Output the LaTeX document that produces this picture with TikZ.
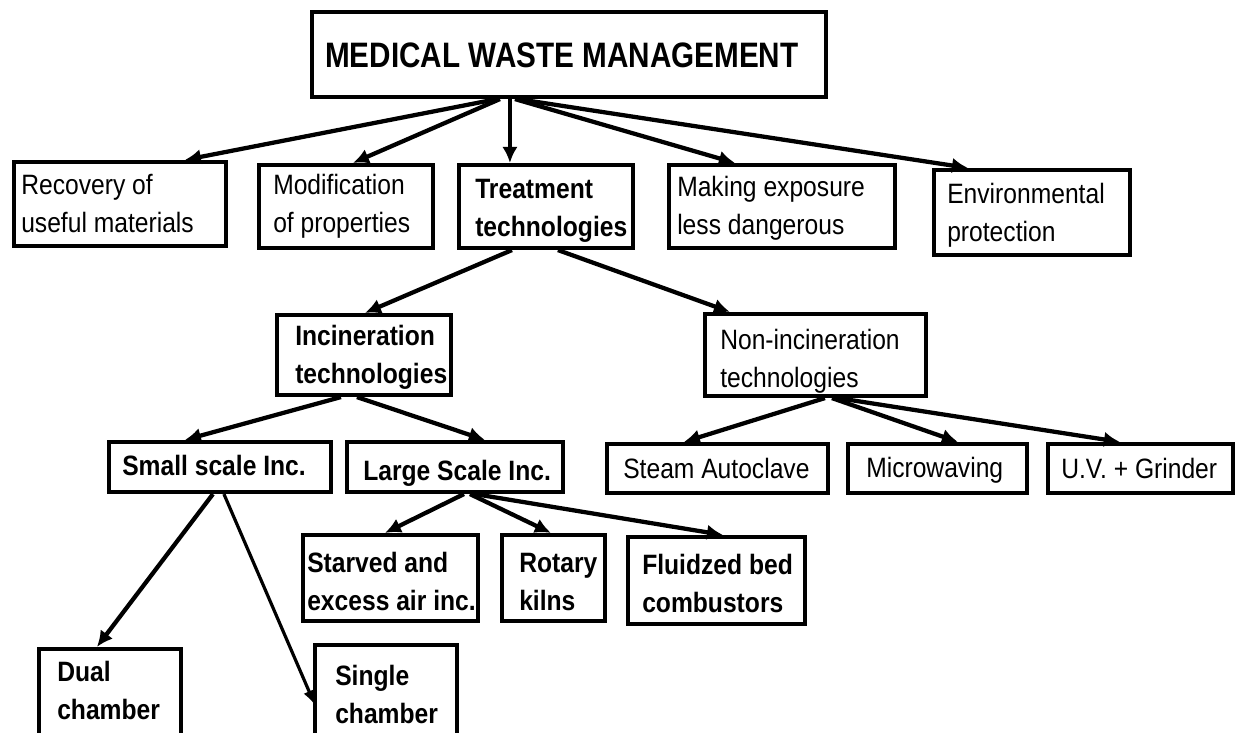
\documentclass[tikz,border=0pt]{standalone}
\usepackage{fontspec}
\setmainfont{Liberation Sans}[FakeStretch=0.88]
\newfontfamily\titlefont{Liberation Sans}[FakeStretch=0.84]
\usetikzlibrary{arrows.meta,calc}
\newcommand\mkbox[5]{\node[box, minimum width={(#4-#2-4)*0.75pt}, minimum height={(#5-#3-4)*0.75pt}] (#1) at ({(#2+#4)/2},{(#3+#5)/2}) {};}
\newcommand\mktext[5]{\node[#2, anchor=base west] (#1) at (#3,#4) {#5};}
\begin{document}
\begin{tikzpicture}[x=0.75pt,y=-0.75pt,
  box/.style={draw, line width=3.1pt, rectangle, inner sep=0pt},
  txt/.style={inner sep=0pt, align=left, font=\fontsize{21}{28.5}\selectfont},
  btxt/.style={inner sep=0pt, align=left, font=\bfseries\fontsize{21}{28.5}\selectfont},
  ttxt/.style={inner sep=0pt, font=\titlefont\bfseries\fontsize{26.5}{30}\selectfont},
  arr/.style={line width=3.2pt, -{Latex[length=12pt,width=11.5pt]}},
  tarr/.style={line width=2.4pt, -{Latex[length=11pt,width=9pt]}}]
\clip (0,0) rectangle (1246,732);
\fill[white] (0,0) rectangle (1246,732);
% boxes
\mkbox{mwm}{310}{10}{828}{99}
\mkbox{rec}{12}{160}{228}{248}
\mkbox{mod}{257}{163}{435}{250}
\mkbox{trt}{457}{163}{635}{250}
\mkbox{mak}{667}{163}{897}{250}
\mkbox{env}{932}{168}{1132}{257}
\mkbox{inc}{275}{313}{453}{397}
\mkbox{non}{703}{312}{928}{398}
\mkbox{sml}{107}{440}{333}{494}
\mkbox{lrg}{345}{440}{565}{494}
\mkbox{stm}{605}{442}{830}{495}
\mkbox{mic}{846}{442}{1029}{495}
\mkbox{uv}{1046}{442}{1235}{495}
\mkbox{stv}{301}{533}{480}{623}
\mkbox{rot}{500}{533}{607}{623}
\mkbox{flu}{626}{535}{807}{626}
\mkbox{dua}{37}{647}{183}{760}
\mkbox{sgl}{313}{643}{459}{760}
% texts (y = baseline of the last line)
\mktext{mwmT}{ttxt}{325}{67}{MEDICAL WASTE MANAGEMENT}
\mktext{recT}{txt}{21}{232}{Recovery of\\useful materials}
\mktext{modT}{txt}{273}{232}{Modification\\of properties}
\mktext{trtT}{btxt}{475}{236}{Treatment\\technologies}
\mktext{makT}{txt}{677}{234}{Making exposure\\less dangerous}
\mktext{envT}{txt}{947}{241}{Environmental\\protection}
\mktext{incT}{btxt}{295}{383}{Incineration\\technologies}
\mktext{nonT}{txt}{720}{387}{Non-incineration\\technologies}
\mktext{smlT}{btxt}{122}{475}{Small scale Inc.}
\mktext{lrgT}{btxt}{363}{480}{Large Scale Inc.}
\mktext{stmT}{txt}{623}{478}{Steam Autoclave}
\mktext{micT}{txt}{866}{477}{Microwaving}
\mktext{uvT}{txt}{1061}{478}{U.V. + Grinder}
\mktext{stvT}{btxt}{307}{610}{Starved and\\excess air inc.}
\mktext{rotT}{btxt}{519}{610}{Rotary\\kilns}
\mktext{fluT}{btxt}{642}{612}{Fluidzed bed\\combustors}
\mktext{duaT}{btxt}{57}{719}{Dual\\chamber}
\mktext{sglT}{btxt}{335}{723}{Single\\chamber}
% connectors
\draw[arr] ($(mwm.south west)+(187,0)$) -- ($(rec.north west)+(173,0)$);
\draw[arr] ($(mwm.south west)+(190,0)$) -- ($(mod.north west)+(96,0)$);
\draw[arr] ($(mwm.south west)+(200,0)$) -- ($(trt.north west)+(53,0)$);
\draw[arr] ($(mwm.south west)+(205,0)$) -- ($(mak.north west)+(68,0)$);
\draw[arr] ($(mwm.south west)+(208,0)$) -- ($(env.north west)+(36,0)$);
\draw[arr] ($(trt.south west)+(55,0)$) -- ($(inc.north west)+(90,0)$);
\draw[arr] ($(trt.south west)+(101,0)$) -- ($(non.north west)+(27,0)$);
\draw[arr] ($(inc.south west)+(66,0)$) -- ($(sml.north west)+(78,0)$);
\draw[arr] ($(inc.south west)+(82,0)$) -- ($(lrg.north west)+(140,0)$);
\draw[arr] ($(non.south west)+(122,0)$) -- ($(stm.north west)+(79,0)$);
\draw[arr] ($(non.south west)+(129,0)$) -- ($(mic.north west)+(112,0)$);
\draw[arr] ($(non.south west)+(135,0)$) -- ($(uv.north west)+(74,0)$);
\draw[arr] ($(lrg.south west)+(119,0)$) -- ($(stv.north west)+(84,0)$);
\draw[arr] ($(lrg.south west)+(125,0)$) -- ($(rot.north west)+(51,0)$);
\draw[arr] ($(lrg.south west)+(130,0)$) -- ($(flu.north west)+(97,0)$);
\draw[arr] ($(sml.south west)+(106,0)$) -- ($(dua.north west)+(60,0)$);
\draw[tarr] ($(sml.south west)+(117,0)$) -- ($(sgl.north west)+(2,62)$);
\end{tikzpicture}
\end{document}
